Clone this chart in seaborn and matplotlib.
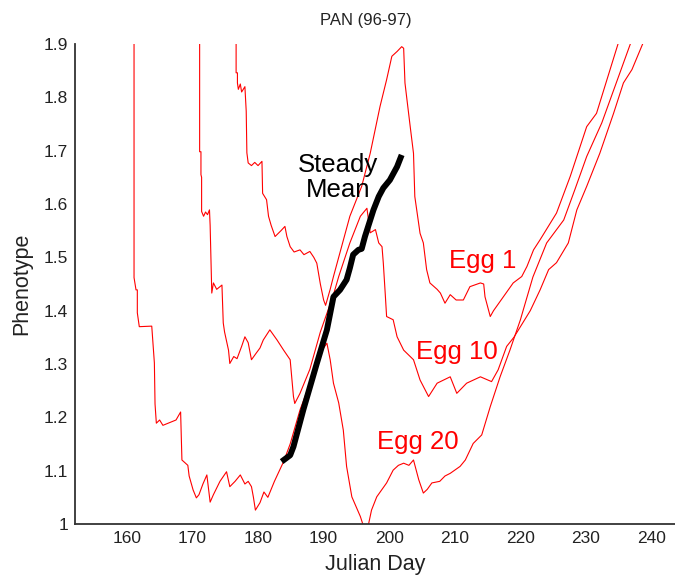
import numpy as np
import pandas as pd
import matplotlib
matplotlib.use("Agg")
import matplotlib.pyplot as plt
import seaborn as sns

# Phenotype trajectories (Julian day, phenotype) for three egg cohorts
egg1_day = [176.66, 176.66, 176.86, 176.86, 177.0, 177.3, 177.5, 178.0, 178.2, 178.3, 178.5,
            179.0, 179.5, 180.0, 180.6, 180.7, 181.3, 181.6, 182.0, 182.6, 183.5, 184.1,
            184.4, 184.9, 185.5, 186.4, 187.0, 187.9, 188.5, 188.96, 189.5, 190.0, 190.3,
            191.0, 191.5, 194.0, 195.8, 197.1, 198.6, 199.6, 200.4, 201.2, 201.9, 202.2,
            202.4, 202.7, 203.2, 203.7, 203.9, 204.7, 205.2, 205.7, 206.2, 207.3, 207.8,
            208.5, 209.3, 210.2, 211.3, 212.3, 213.9, 214.4, 214.6, 215.4, 215.9, 217.4,
            218.9, 220.2, 221.0, 222.0, 223.0, 225.5, 227.6, 230.1, 231.6, 235.0]
egg1_val = [1.92, 1.846, 1.846, 1.827, 1.815, 1.825, 1.81, 1.82, 1.774, 1.696, 1.677,
            1.672, 1.678, 1.672, 1.68, 1.62, 1.608, 1.577, 1.56, 1.539, 1.55, 1.558,
            1.539, 1.52, 1.51, 1.514, 1.505, 1.511, 1.50, 1.489, 1.45, 1.42, 1.41,
            1.44, 1.464, 1.577, 1.633, 1.695, 1.783, 1.833, 1.877, 1.886, 1.895, 1.892,
            1.827, 1.796, 1.745, 1.695, 1.614, 1.545, 1.527, 1.477, 1.452, 1.44, 1.433,
            1.414, 1.43, 1.42, 1.42, 1.445, 1.452, 1.45, 1.426, 1.389, 1.40, 1.426,
            1.452, 1.464, 1.483, 1.514, 1.533, 1.583, 1.652, 1.745, 1.77, 1.905]

egg10_day = [171.1, 171.1, 171.3, 171.3, 171.4, 171.4, 171.7, 172.0, 172.3, 172.6, 172.7,
             172.95, 173.2, 173.7, 174.2, 174.5, 174.7, 174.9, 175.5, 175.7, 176.3, 176.8,
             177.5, 178.0, 178.5, 179.0, 179.7, 180.3, 180.8, 181.8, 182.9, 183.9, 184.9,
             185.4, 185.6, 186.4, 187.9, 189.5, 190.5, 191.5, 192.3, 194.0, 195.6, 196.6,
             197.1, 197.9, 198.4, 198.9, 199.1, 199.4, 199.6, 200.6, 201.2, 202.2, 203.7,
             204.7, 206.0, 207.3, 208.3, 209.3, 210.3, 211.8, 213.9, 215.6, 216.6, 217.9,
             219.0, 220.0, 221.5, 223.0, 224.3, 225.5, 227.3, 228.6, 230.1, 232.1, 234.2,
             235.7, 237.0, 238.8]
egg10_val = [1.92, 1.698, 1.698, 1.655, 1.65, 1.586, 1.577, 1.585, 1.58, 1.589, 1.56,
             1.433, 1.452, 1.44, 1.445, 1.448, 1.377, 1.36, 1.326, 1.301, 1.314, 1.31,
             1.333, 1.351, 1.34, 1.308, 1.32, 1.33, 1.345, 1.364, 1.345, 1.326, 1.308,
             1.239, 1.226, 1.245, 1.29, 1.36, 1.395, 1.43, 1.464, 1.527, 1.577, 1.592,
             1.546, 1.552, 1.527, 1.52, 1.489, 1.43, 1.389, 1.383, 1.351, 1.326, 1.308,
             1.27, 1.239, 1.264, 1.27, 1.276, 1.245, 1.264, 1.276, 1.267, 1.289, 1.333,
             1.35, 1.37, 1.40, 1.439, 1.477, 1.49, 1.527, 1.589, 1.633, 1.695, 1.77,
             1.827, 1.852, 1.905]

egg20_day = [161.1, 161.1, 161.4, 161.6, 161.6, 161.9, 163.8, 164.2, 164.3, 164.5, 165.0,
             165.5, 166.5, 167.5, 168.2, 168.4, 169.3, 169.5, 170.1, 170.6, 171.0, 171.6,
             172.2, 172.7, 173.2, 173.8, 174.2, 175.2, 175.7, 176.5, 177.3, 178.0, 178.5,
             179.0, 179.3, 179.6, 180.3, 180.9, 181.5, 182.5, 183.9, 184.9, 186.4, 187.5,
             188.96, 190.0, 190.5, 191.0, 191.5, 192.3, 193.0, 193.5, 194.3, 195.6, 196.1,
             196.8, 197.3, 198.1, 199.6, 200.6, 201.4, 202.2, 203.0, 203.7, 204.5, 205.2,
             205.8, 206.5, 207.7, 208.5, 209.3, 210.8, 211.6, 212.8, 214.1, 215.4, 216.9,
             218.4, 220.0, 220.4, 221.9, 224.0, 226.6, 228.3, 230.1, 232.4, 236.9]
egg20_val = [1.92, 1.462, 1.439, 1.439, 1.396, 1.370, 1.371, 1.302, 1.225, 1.189, 1.195,
             1.185, 1.19, 1.195, 1.21, 1.12, 1.11, 1.09, 1.064, 1.049, 1.055, 1.075,
             1.092, 1.041, 1.055, 1.07, 1.08, 1.098, 1.07, 1.08, 1.092, 1.075, 1.08,
             1.07, 1.05, 1.026, 1.04, 1.06, 1.05, 1.08, 1.117, 1.15, 1.214, 1.25,
             1.308, 1.33, 1.339, 1.308, 1.264, 1.227, 1.176, 1.108, 1.051, 1.014, 0.995,
             0.997, 1.026, 1.051, 1.077, 1.101, 1.11, 1.114, 1.11, 1.12, 1.083, 1.058,
             1.065, 1.077, 1.08, 1.09, 1.095, 1.108, 1.12, 1.151, 1.167, 1.22, 1.276,
             1.326, 1.383, 1.40, 1.463, 1.527, 1.570, 1.627, 1.689, 1.752, 1.905]

# Steady-state mean phenotype
steady_day = [183.6, 184.9, 185.4, 186.9, 188.96, 190.5, 191.5, 192.5, 193.5, 194.0,
              194.5, 195.3, 195.8, 196.3, 197.6, 198.4, 199.1, 200.1, 201.2, 201.9]
steady_val = [1.117, 1.129, 1.145, 1.214, 1.301, 1.364, 1.426, 1.439, 1.458, 1.48,
              1.505, 1.514, 1.516, 1.539, 1.589, 1.614, 1.630, 1.645, 1.670, 1.692]

series_names = ["Egg 1", "Egg 10", "Egg 20"]
x_ticks = [160, 170, 180, 190, 200, 210, 220, 230, 240]
y_ticks = [1, 1.1, 1.2, 1.3, 1.4, 1.5, 1.6, 1.7, 1.8, 1.9]
y_ticklabels = ["1", "1.1", "1.2", "1.3", "1.4", "1.5", "1.6", "1.7", "1.8", "1.9"]

frames = []
for name, d, v in zip(series_names,
                      [egg1_day, egg10_day, egg20_day],
                      [egg1_val, egg10_val, egg20_val]):
    frames.append(pd.DataFrame({"day": d, "phen": v, "cohort": name,
                                "step": np.arange(len(d))}))
eggs = pd.concat(frames, ignore_index=True)
steady = pd.DataFrame({"day": steady_day, "phen": steady_val})

sns.set_theme(style="white")
plt.rcParams["font.family"] = ["Liberation Sans", "DejaVu Sans"]

fig = plt.figure(figsize=(6.75, 5.8), dpi=100)
ax = fig.add_axes([75 / 675, 56 / 580, 1 - 75 / 675, 480 / 580])

sns.lineplot(data=eggs, x="day", y="phen", hue="cohort", units="cohort",
             estimator=None, sort=False, palette=["#ff0000"] * 3,
             linewidth=0.8, legend=False, ax=ax)
sns.lineplot(data=steady, x="day", y="phen", estimator=None, sort=False,
             color="black", linewidth=4.3, ax=ax, solid_capstyle="butt")

ax.set_xlim(152.1, 152.1 + 600 / 6.56)
ax.set_ylim(1.0, 1.9)
ax.set_xticks(x_ticks)
ax.set_xticklabels([str(t) for t in x_ticks])
ax.set_yticks(y_ticks)
ax.set_yticklabels(y_ticklabels)
ax.tick_params(direction="in", length=4, width=1, color="#333333",
               labelsize=12.5, labelcolor="#222222", pad=5)

for side in ["top", "right"]:
    ax.spines[side].set_visible(False)
for side in ["left", "bottom"]:
    ax.spines[side].set_color("#333333")
    ax.spines[side].set_linewidth(1.3)

ax.set_xlabel("Julian Day", fontsize=15.5, color="#222222", labelpad=6)
ax.set_ylabel("Phenotype", fontsize=15.5, color="#222222", labelpad=8)
fig.text(366 / 675, 1 - 20 / 580, "PAN (96-97)", ha="center", va="center",
         fontsize=12, color="#222222")

ax.text(192.2, 1.649, "Steady\nMean", ha="center", va="center",
        fontsize=18.5, color="black", linespacing=1.05)
ax.text(209.1, 1.493, "Egg 1", ha="left", va="center", fontsize=18.5, color="#ff0000")
ax.text(204.1, 1.323, "Egg 10", ha="left", va="center", fontsize=18.5, color="#ff0000")
ax.text(198.1, 1.154, "Egg 20", ha="left", va="center", fontsize=18.5, color="#ff0000")

fig.savefig("out.png", dpi=100)
